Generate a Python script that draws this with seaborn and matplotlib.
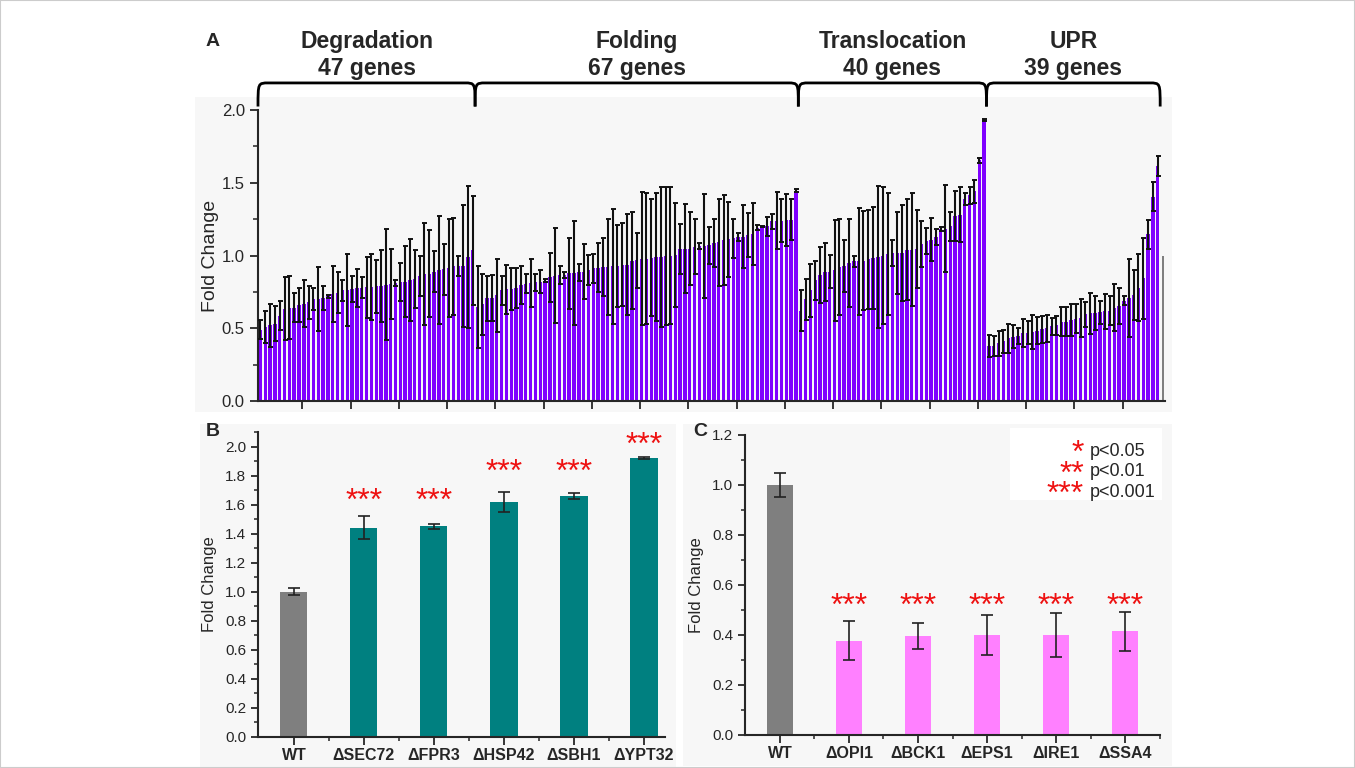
import numpy as np
import pandas as pd
import seaborn as sns
import matplotlib.pyplot as plt
from matplotlib.path import Path
from matplotlib.patches import PathPatch, Rectangle
from matplotlib.ticker import MultipleLocator
from matplotlib.transforms import blended_transform_factory

# ---- panel A: fold change of every deletion strain, sorted within group ----
group_names = ["Degradation", "Folding", "Translocation", "UPR"]
gene_counts = [47, 67, 40, 39]

deg_fc = [0.49, 0.51, 0.52, 0.53, 0.585, 0.635, 0.64, 0.64, 0.66, 0.67,
          0.678, 0.70, 0.703, 0.708, 0.72, 0.735, 0.745, 0.76, 0.763, 0.768,
          0.776, 0.78, 0.783, 0.785, 0.787, 0.79, 0.80, 0.805, 0.81, 0.82,
          0.82, 0.83, 0.84, 0.86, 0.87, 0.875, 0.89, 0.90, 0.905, 0.914,
          0.925, 0.926, 0.93, 0.99, 1.035]
deg_err = [0.067, 0.11, 0.15, 0.12, 0.10, 0.217, 0.217, 0.10, 0.118, 0.164,
           0.112, 0.075, 0.22, 0.083, 0.01, 0.19, 0.14, 0.075, 0.25, 0.09,
           0.13, 0.07, 0.21, 0.225, 0.18, 0.246, 0.38, 0.24, 0.02, 0.13,
           0.246, 0.28, 0.2, 0.14, 0.35, 0.3, 0.14, 0.37, 0.175, 0.34,
           0.335, 0.07, 0.42, 0.49, 0.375]

fold_fc = [0.645, 0.665, 0.705, 0.708, 0.727, 0.762, 0.767, 0.77, 0.775, 0.798,
           0.805, 0.808, 0.816, 0.82, 0.827, 0.85, 0.862, 0.865, 0.868, 0.877,
           0.88, 0.885, 0.89, 0.90, 0.913, 0.917, 0.923, 0.924, 0.925, 0.93,
           0.937, 0.937, 0.965, 0.967, 0.979, 0.979, 0.985, 0.99, 0.99, 0.994,
           1.0, 1.006, 1.045, 1.045, 1.048, 1.06, 1.065, 1.065, 1.07, 1.085,
           1.09, 1.105, 1.11, 1.117, 1.127, 1.13, 1.14, 1.148, 1.19, 1.2,
           1.2, 1.235, 1.24, 1.24, 1.246, 1.247, 1.445]
fold_err = [0.283, 0.21, 0.157, 0.16, 0.25, 0.1, 0.167, 0.143, 0.137, 0.13,
            0.065, 0.165, 0.057, 0.077, 0.01, 0.167, 0.327, 0.06, 0.02, 0.245,
            0.357, 0.057, 0.19, 0.105, 0.1, 0.17, 0.2, 0.33, 0.395, 0.283,
            0.284, 0.347, 0.336, 0.19, 0.457, 0.448, 0.4, 0.437, 0.483, 0.474,
            0.47, 0.358, 0.17, 0.306, 0.253, 0.19, 0.02, 0.355, 0.125, 0.163,
            0.3, 0.308, 0.26, 0.137, 0.025, 0.215, 0.15, 0.215, 0.017, 0.005,
            0.063, 0.05, 0.197, 0.147, 0.178, 0.14, 0.011]

trans_fc = [0.62, 0.70, 0.76, 0.83, 0.865, 0.885, 0.89, 0.897, 0.92, 0.929,
            0.948, 0.96, 0.96, 0.965, 0.975, 0.98, 0.99, 1.0, 1.01, 1.017,
            1.018, 1.02, 1.04, 1.04, 1.045, 1.078, 1.10, 1.108, 1.127, 1.183,
            1.184, 1.20, 1.27, 1.28, 1.39, 1.414, 1.44, 1.655, 1.93]
trans_err = [0.14, 0.14, 0.18, 0.135, 0.19, 0.2, 0.113, 0.35, 0.33, 0.18,
             0.3, 0.04, 0.367, 0.34, 0.34, 0.35, 0.49, 0.47, 0.42, 0.087,
             0.283, 0.33, 0.345, 0.39, 0.268, 0.156, 0.09, 0.147, 0.055, 0.015,
             0.3, 0.1, 0.17, 0.19, 0.04, 0.057, 0.077, 0.016, 0.005]

upr_fc = [0.377, 0.38, 0.397, 0.41, 0.43, 0.443, 0.447, 0.468, 0.47, 0.474,
          0.483, 0.494, 0.50, 0.513, 0.52, 0.544, 0.546, 0.558, 0.565, 0.57,
          0.596, 0.602, 0.605, 0.61, 0.616, 0.62, 0.642, 0.652, 0.689, 0.71,
          0.73, 0.78, 0.843, 1.146, 1.403, 1.617]
upr_err = [0.077, 0.068, 0.087, 0.077, 0.097, 0.077, 0.054, 0.098, 0.08, 0.117,
           0.094, 0.093, 0.092, 0.06, 0.067, 0.1, 0.097, 0.11, 0.1, 0.128,
           0.086, 0.142, 0.118, 0.08, 0.12, 0.1, 0.16, 0.122, 0.03, 0.267,
           0.17, 0.23, 0.28, 0.1, 0.1, 0.07]

wt_fc_a = 1.0

# ---- panel B: strains with increased fold change ----
b_strains = ["WT", "ΔSEC72", "ΔFPR3", "ΔHSP42", "ΔSBH1", "ΔYPT32"]
b_fc = [1.0, 1.44, 1.45, 1.62, 1.66, 1.92]
b_err = [0.025, 0.08, 0.015, 0.07, 0.02, 0.005]
b_sig = ["", "***", "***", "***", "***", "***"]

# ---- panel C: strains with decreased fold change ----
c_strains = ["WT", "ΔOPI1", "ΔBCK1", "ΔEPS1", "ΔIRE1", "ΔSSA4"]
c_fc = [1.0, 0.378, 0.397, 0.40, 0.40, 0.415]
c_err = [0.048, 0.078, 0.052, 0.08, 0.087, 0.077]
c_sig = ["", "***", "***", "***", "***", "***"]

key_stars = ["*", "**", "***"]
key_text = ["p<0.05", "p<0.01", "p<0.001"]

PURPLE = "#7f00ff"
GRAY = "#7f7f7f"
TEAL = "#008080"
PINK = "#ff80ff"
RED = "#ee1111"
BG = "#f7f7f7"

sns.set_style("ticks")
plt.rcParams["font.family"] = ["Liberation Sans", "DejaVu Sans"]
plt.rcParams["axes.linewidth"] = 1.5
plt.rcParams["xtick.major.width"] = 1.3
plt.rcParams["ytick.major.width"] = 1.3
plt.rcParams["xtick.minor.width"] = 1.1
plt.rcParams["ytick.minor.width"] = 1.1

W, H = 1355, 768
fig = plt.figure(figsize=(W / 100, H / 100), dpi=100)


def fig_box(x0, y0, x1, y1):
    # pixel box (top-left origin) -> figure fraction rect
    return [x0 / W, 1 - y1 / H, (x1 - x0) / W, (y1 - y0) / H]


def add_bg(x0, y0, x1, y1, color=BG):
    l, b, w, h = fig_box(x0, y0, x1, y1)
    fig.add_artist(Rectangle((l, b), w, h, transform=fig.transFigure,
                             facecolor=color, edgecolor="none", zorder=-10))


add_bg(195, 97, 1172, 412)
add_bg(200, 424, 676, 768)
add_bg(683, 424, 1172, 766)
add_bg(1010, 428, 1162, 500, color="white")
fig.add_artist(Rectangle((0, 0), 1, 1, transform=fig.transFigure, fill=False,
                         edgecolor="#cccccc", linewidth=1.5))

# ------------------------- panel A -------------------------
vals = deg_fc + fold_fc + trans_fc + upr_fc + [wt_fc_a]
errs = deg_err + fold_err + trans_err + upr_err
grp = (["Degradation"] * len(deg_fc) + ["Folding"] * len(fold_fc)
       + ["Translocation"] * len(trans_fc) + ["UPR"] * len(upr_fc) + ["WT"])
df_a = pd.DataFrame({"pos": np.arange(len(vals)), "fc": vals, "grp": grp})

ax_a = fig.add_axes(fig_box(258, 110, 1165, 401))
ax_a.set_facecolor("none")
pal_a = {g: PURPLE for g in group_names}
pal_a["WT"] = GRAY
sns.barplot(data=df_a, x="pos", y="fc", hue="grp", palette=pal_a, dodge=False,
            legend=False, width=0.7, linewidth=0, saturation=1, errorbar=None,
            ax=ax_a)
# WT reference bar is drawn as a thin grey line
for p in ax_a.patches:
    r, g, b, _ = p.get_facecolor()
    if abs(r - g) < 0.05 and abs(g - b) < 0.05:
        cx = p.get_x() + p.get_width() / 2
        p.set_width(0.4)
        p.set_x(cx - 0.2)
ax_a.errorbar(df_a["pos"][:-1], df_a["fc"][:-1], yerr=errs, fmt="none",
              ecolor="#111111", elinewidth=1.5, capsize=1.8, capthick=1.4, zorder=3)
ax_a.set_xlim(-0.5, len(vals) - 0.5)
ax_a.set_ylim(0, 2.0)
ax_a.yaxis.set_major_locator(MultipleLocator(0.5))
ax_a.yaxis.set_minor_locator(MultipleLocator(0.25))
ax_a.set_xticks(np.arange(9, len(vals) - 1, 10) - 0.3)
ax_a.set_xticklabels([])
ax_a.tick_params(axis="y", which="major", labelsize=12, length=6, direction="out")
ax_a.tick_params(axis="y", which="minor", length=3.5)
ax_a.tick_params(axis="x", length=6)
ax_a.set_xlabel("")
ax_a.set_ylabel("Fold Change", fontsize=14, labelpad=2)
sns.despine(ax=ax_a)

# curly group braces above panel A
bounds = np.cumsum([0, len(deg_fc), len(fold_fc), len(trans_fc), len(upr_fc)]) - 0.5
tr = blended_transform_factory(ax_a.transData, ax_a.transAxes)
y_top, y_low, d = 1.093, 1.012, 2.2
for i, (name, n) in enumerate(zip(group_names, gene_counts)):
    x0, x1 = bounds[i], bounds[i + 1]
    verts = [(x0, y_low), (x0, y_top), (x0, y_top), (x0 + d, y_top),
             (x1 - d, y_top),
             (x1, y_top), (x1, y_top), (x1, y_low)]
    codes = [Path.MOVETO, Path.CURVE4, Path.CURVE4, Path.CURVE4,
             Path.LINETO,
             Path.CURVE4, Path.CURVE4, Path.CURVE4]
    ax_a.add_patch(PathPatch(Path(verts, codes), transform=tr, fill=False,
                             edgecolor="black", linewidth=2.0, clip_on=False))
    ax_a.text((x0 + x1) / 2, 1.19, f"{name}\n{n} genes", transform=tr,
              ha="center", va="center", fontsize=16.5, fontweight="bold",
              linespacing=1.2)
fig.text(213 / W, 1 - 42 / H, "A", fontsize=14, fontweight="bold",
         ha="center", va="center")


# ------------------------- panels B and C -------------------------
def small_panel(box, strains, fc, err, sig, color, ylim, ystep, star_y, letter, lxy):
    ax = fig.add_axes(fig_box(*box))
    ax.set_facecolor("none")
    df = pd.DataFrame({"strain": strains, "fc": fc})
    pal = {s: (GRAY if s == "WT" else color) for s in strains}
    sns.barplot(data=df, x="strain", y="fc", hue="strain", palette=pal,
                legend=False, width=0.386, linewidth=0, saturation=1,
                errorbar=None, ax=ax)
    ax.errorbar(np.arange(len(strains)), fc, yerr=err, fmt="none",
                ecolor="#222222", elinewidth=1.2, capsize=4, capthick=1.2, zorder=3)
    for i, s in enumerate(sig):
        if s:
            ax.text(i, star_y[i], s, ha="center", va="baseline", color=RED,
                    fontsize=23)
    ax.set_ylim(*ylim)
    ax.yaxis.set_major_locator(MultipleLocator(ystep))
    ax.yaxis.set_minor_locator(MultipleLocator(ystep / 2))
    ax.set_xticks(np.arange(len(strains)), minor=False)
    ax.set_xticks(np.arange(len(strains)) + 0.5, minor=True)
    ax.tick_params(axis="y", which="major", labelsize=11, length=5)
    ax.tick_params(axis="y", which="minor", length=3)
    ax.tick_params(axis="x", which="major", labelsize=11.5, length=6, pad=2)
    ax.tick_params(axis="x", which="minor", length=3)
    for lab in ax.get_xticklabels():
        lab.set_fontweight("bold")
    ax.set_xlabel("")
    ax.set_ylabel("Fold Change", fontsize=12, labelpad=6)
    sns.despine(ax=ax)
    fig.text(lxy[0] / W, 1 - lxy[1] / H, letter, fontsize=14, fontweight="bold",
             ha="center", va="center")
    return ax


ax_b = small_panel((258, 432, 665, 737), b_strains, b_fc, b_err, b_sig, TEAL,
                   (0, 2.1), 0.2, [0, 1.566, 1.566, 1.764, 1.764, 1.946], "B", (213, 432))
ax_b.set_xlim(-0.514, 5.3)

ax_c = small_panel((745, 435, 1160, 735), c_strains, c_fc, c_err, c_sig, PINK,
                   (0, 1.2), 0.2, [0] + [0.48] * 5, "C", (700, 432))
ax_c.set_xlim(-0.507, 5.507)

# significance key in panel C: one text block per column, rows ~20.5 px apart
fig.text(1084 / W, 1 - 439 / H, "\n".join(key_stars), color=RED, fontsize=23,
         ha="right", va="top", multialignment="right", linespacing=0.59)
fig.text(1090 / W, 1 - 443 / H, "\n".join(key_text), fontsize=13,
         ha="left", va="top", linespacing=1.265)

fig.savefig("out.png", dpi=100)
